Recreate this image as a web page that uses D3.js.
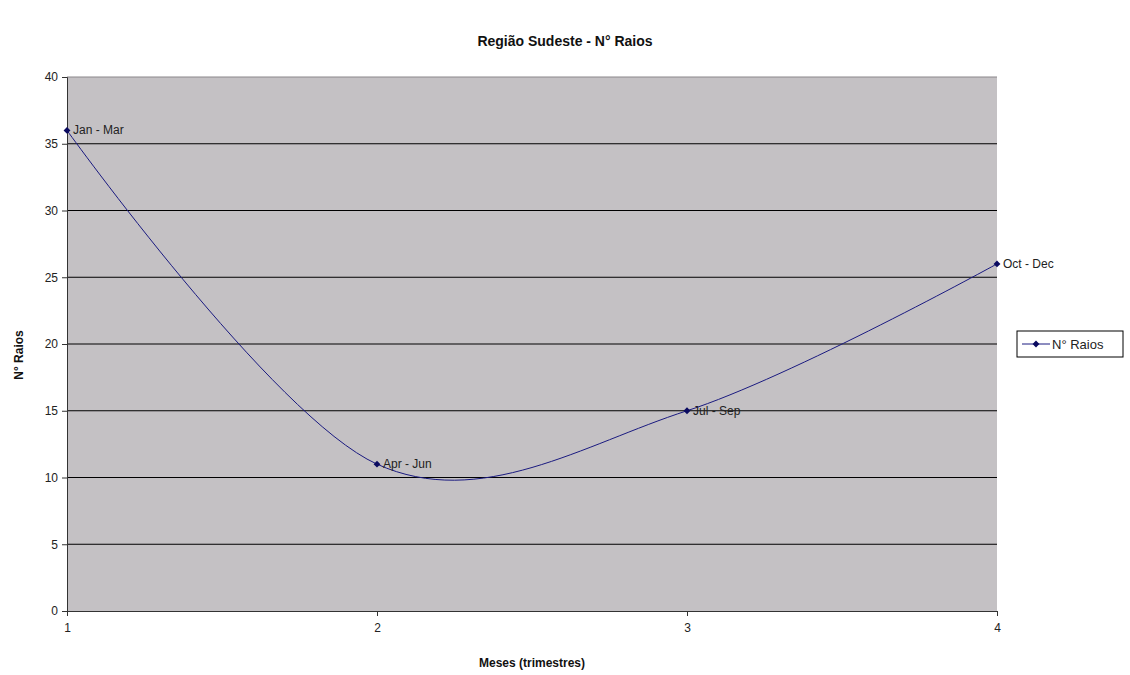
<!DOCTYPE html>
<html><head><meta charset="utf-8">
<script src="https://cdn.jsdelivr.net/npm/d3@7"></script>
<style>body{margin:0;background:#fff}text{font-family:"Liberation Sans",Arial,sans-serif}</style>
</head><body><svg id="c" width="1130" height="675"></svg>
<script>
const xValues = [1, 2, 3, 4];
const raios = [36, 11, 15, 26];
const pointLabels = ["Jan - Mar", "Apr - Jun", "Jul - Sep", "Oct - Dec"];
const yTicks = [0, 5, 10, 15, 20, 25, 30, 35, 40];
const seriesName = "N° Raios";
const title = "Região Sudeste - N° Raios";
const xTitle = "Meses (trimestres)";
const yTitle = "N° Raios";

const svg = d3.select("#c");
const L = 67, R = 997, T = 77, B = 611;
const x = d3.scaleLinear().domain([1, 4]).range([L, R]);
const y = d3.scaleLinear().domain([0, 40]).range([B, T]);

svg.append("rect").attr("x", L).attr("y", T).attr("width", R - L).attr("height", B - T).attr("fill", "#c4c1c4");
svg.append("line").attr("x1", L).attr("x2", R).attr("y1", T).attr("y2", T).attr("stroke", "#8a878a");

svg.append("g").selectAll("line").data(yTicks.filter(d => d > 0 && d < 40)).join("line")
  .attr("x1", L).attr("x2", R).attr("y1", d => y(d)).attr("y2", d => y(d)).attr("stroke", "#000").attr("stroke-width", 1);

const ya = svg.append("g").attr("transform", `translate(${L},0)`)
  .call(d3.axisLeft(y).tickValues(yTicks).tickSize(5).tickPadding(4));
const xa = svg.append("g").attr("transform", `translate(0,${B})`)
  .call(d3.axisBottom(x).tickValues(xValues).tickFormat(d3.format("d")).tickSize(5).tickPadding(7));
[ya, xa].forEach(a => {
  a.select(".domain").attr("stroke", "#333");
  a.selectAll(".tick line").attr("stroke", "#333");
  a.selectAll("text").attr("font-size", 12).attr("fill", "#222").attr("font-family", "Liberation Sans, Arial, sans-serif");
});

const data = xValues.map((v, i) => ({x: v, y: raios[i], label: pointLabels[i]}));
const line = d3.line().x(d => x(d.x)).y(d => y(d.y)).curve(d3.curveCardinal.tension(0));
svg.append("path").datum(data).attr("d", line).attr("fill", "none").attr("stroke", "#1a1a80").attr("stroke-width", 1);

const diamond = d3.symbol().type(d3.symbolDiamond2).size(30);
svg.append("g").selectAll("path").data(data).join("path")
  .attr("transform", d => `translate(${x(d.x)},${y(d.y)})`).attr("d", diamond).attr("fill", "#0a0a60");

svg.append("g").selectAll("text").data(data).join("text")
  .attr("x", d => x(d.x) + 6).attr("y", d => y(d.y) + 4)
  .attr("font-size", 12).attr("fill", "#222").text(d => d.label);

svg.append("text").attr("x", 565).attr("y", 46).attr("text-anchor", "middle")
  .attr("font-size", 14).attr("font-weight", "bold").attr("fill", "#111").text(title);
svg.append("text").attr("x", 532).attr("y", 667).attr("text-anchor", "middle")
  .attr("font-size", 12).attr("font-weight", "bold").attr("fill", "#111").text(xTitle);
svg.append("text").attr("transform", "translate(23,355) rotate(-90)").attr("text-anchor", "middle")
  .attr("font-size", 12).attr("font-weight", "bold").attr("fill", "#111").text(yTitle);

const lg = svg.append("g").attr("transform", "translate(1017,331)");
lg.append("rect").attr("width", 106).attr("height", 26).attr("fill", "#fff").attr("stroke", "#000");
lg.append("line").attr("x1", 5).attr("x2", 33).attr("y1", 13).attr("y2", 13).attr("stroke", "#1a1a80");
lg.append("path").attr("transform", "translate(19,13)").attr("d", diamond).attr("fill", "#0a0a60");
lg.append("text").attr("x", 35).attr("y", 18).attr("font-size", 13).attr("fill", "#222").text(seriesName);
</script></body></html>
